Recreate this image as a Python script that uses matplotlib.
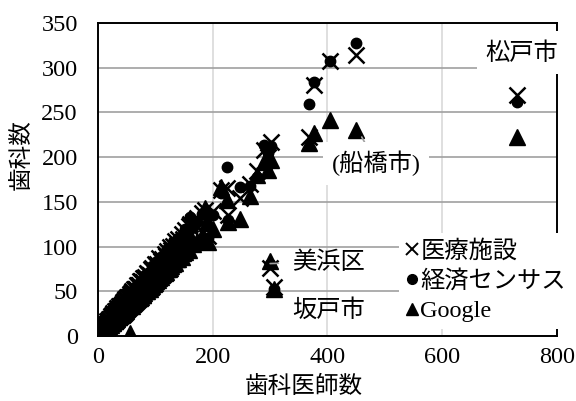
import matplotlib
matplotlib.use("Agg")
import matplotlib.pyplot as plt
from matplotlib.font_manager import FontProperties
from matplotlib.lines import Line2D

# dentists per municipality and dental clinic counts from three sources
DENTISTS = [3, 5, 6, 8, 9, 10, 12, 13, 14, 15, 17, 18, 20, 21, 23, 24, 26, 28, 29, 31,
            33, 35, 36, 38, 40, 42, 44, 46, 48, 50, 52, 55, 57, 60, 62, 65, 68, 70, 73, 76,
            79, 82, 85, 88, 92, 95, 99, 103, 107, 111, 116, 120, 125, 130, 135, 140, 146, 152, 158, 160,
            165, 172, 182, 186, 190, 191, 200, 215, 224, 226, 247, 265, 277, 290, 296, 300, 302, 306, 368, 376,
            405, 450, 731,
            4, 7, 11, 16, 19, 22, 25, 27, 30, 32, 34, 37, 39, 41, 43, 45, 47, 49, 51, 54,
            56, 59, 61, 64, 67, 69, 72, 75, 78, 81, 84, 87, 90, 94, 97, 101, 105, 109, 113, 118,
            123, 128, 133, 138, 143, 149, 155]
CLINICS_MEDICAL = [4, 6, 5, 8, 9, 10, 11, 12, 13, 13, 15, 16, 18, 17, 20, 21, 22, 24, 25, 26,
                   29, 28, 31, 32, 34, 35, 38, 37, 41, 40, 44, 45, 48, 49, 52, 53, 57, 56, 61, 60,
                   65, 66, 70, 69, 75, 76, 80, 81, 87, 86, 92, 95, 99, 101, 106, 108, 114, 118, 123, 125,
                   128, 132, 138, 141, 128, 112, 140, 163, 165, 135, 154, 170, 185, 208, 200, 76, 217, 55, 222, 281,
                   308, 314, 269,
                   7, 10, 13, 17, 19, 22, 24, 26, 28, 28, 31, 33, 34, 36, 35, 39, 41, 40, 44, 44,
                   47, 50, 49, 53, 53, 57, 57, 61, 60, 65, 65, 69, 68, 74, 73, 79, 78, 84, 83, 90,
                   89, 96, 95, 102, 101, 108, 110]
CLINICS_CENSUS = [3, 5, 6, 7, 8, 9, 11, 11, 12, 14, 14, 15, 17, 18, 19, 20, 23, 23, 24, 27,
                  27, 29, 30, 31, 33, 36, 36, 39, 39, 42, 42, 46, 46, 50, 50, 55, 55, 58, 58, 62,
                  63, 68, 67, 71, 73, 78, 78, 84, 84, 90, 90, 97, 96, 105, 104, 110, 112, 120, 118, 133,
                  122, 127, 136, 140, 125, 110, 135, 160, 189, 130, 167, 168, 178, 214, 205, 80, 213, 53, 259, 284,
                  308, 328, 262,
                  5, 7, 10, 13, 15, 17, 20, 21, 24, 25, 26, 29, 30, 31, 33, 35, 36, 37, 39, 41,
                  43, 45, 46, 48, 51, 52, 54, 56, 58, 60, 62, 65, 66, 69, 71, 74, 77, 79, 82, 86,
                  89, 92, 96, 99, 103, 107, 112]
CLINICS_GOOGLE = [2, 3, 4, 5, 6, 6, 8, 8, 9, 10, 10, 12, 12, 14, 14, 15, 16, 18, 17, 20,
                  19, 22, 21, 24, 24, 27, 26, 29, 28, 31, 31, 3, 35, 38, 37, 41, 40, 44, 43, 47,
                  46, 51, 50, 55, 55, 60, 59, 64, 65, 68, 70, 75, 76, 80, 82, 86, 88, 94, 96, 112,
                  103, 106, 112, 143, 126, 105, 120, 167, 152, 128, 131, 156, 180, 195, 186, 84, 197, 52, 216, 227,
                  242, 230, 222,
                  3, 4, 6, 9, 11, 12, 14, 15, 17, 18, 20, 21, 22, 23, 25, 26, 27, 29, 30, 32,
                  33, 34, 36, 38, 39, 41, 42, 44, 46, 48, 50, 52, 53, 56, 58, 61, 63, 66, 69, 72,
                  75, 78, 82, 86, 90, 93, 97]

SERIES_NAMES = ["医療施設", "経済センサス", "Google"]
X_TICKS = [0, 200, 400, 600, 800]
Y_TICKS = [0, 50, 100, 150, 200, 250, 300, 350]

plt.rcParams["font.family"] = ["Noto Sans CJK JP", "DejaVu Sans"]
SERIF = ["Liberation Serif", "Noto Sans CJK JP"]
FS = 17.5


def main():
    fig = plt.figure(figsize=(5.76, 4.01), dpi=100)
    ax = fig.add_axes([0.1701, 0.1621, 0.7969, 0.7805])

    ax.plot(DENTISTS, CLINICS_MEDICAL, linestyle="none", marker="x", ms=11,
            mew=1.8, color="black")
    ax.plot(DENTISTS, CLINICS_CENSUS, linestyle="none", marker="o", ms=7.5,
            color="black")
    ax.plot(DENTISTS, CLINICS_GOOGLE, linestyle="none", marker="^", ms=11,
            color="black")

    ax.set_xlim(0, 800)
    ax.set_ylim(0, 350)
    ax.set_xticks(X_TICKS)
    ax.set_yticks(Y_TICKS)
    ax.tick_params(length=0, labelsize=FS)
    ax.tick_params(axis="y", pad=14.5)
    ax.tick_params(axis="x", pad=8)
    for lab in ax.get_xticklabels() + ax.get_yticklabels():
        lab.set_family(SERIF)

    ax.set_axisbelow(True)
    ax.yaxis.grid(True, color="#a0a0a0", lw=1.2)
    ax.xaxis.grid(True, color="#d9d9d9", lw=1.2)
    for sp in ax.spines.values():
        sp.set_linewidth(1.4)
        sp.set_color("black")

    ax.set_xlabel("歯科医師数", fontsize=17)
    ax.set_ylabel("歯科数", fontsize=17)
    ax.xaxis.set_label_coords(0.449, -0.125)
    ax.yaxis.set_label_coords(-0.142, 0.581)

    box = dict(boxstyle="square,pad=0.35", fc="white", ec="none")
    ax.text(739, 317, "松戸市", fontsize=FS, ha="center", va="center",
            bbox=box, clip_on=False, zorder=6)
    ax.annotate("(船橋市)", xy=(455, 228), xytext=(485, 193), fontsize=FS,
                family=SERIF, ha="center", va="center", bbox=box, zorder=6,
                arrowprops=dict(arrowstyle="-", color="#a0a0a0", lw=1.2,
                                shrinkA=0, shrinkB=4))
    ax.annotate("美浜区", xy=(300, 81), xytext=(402, 83), fontsize=FS,
                ha="center", va="center", zorder=6,
                arrowprops=dict(arrowstyle="-", color="#a0a0a0", lw=1.2,
                                shrinkA=8, shrinkB=0))
    ax.text(402, 29, "坂戸市", fontsize=FS, ha="center", va="center", zorder=6)

    handles = [
        Line2D([], [], linestyle="none", marker="x", ms=8, mew=1.4, color="black"),
        Line2D([], [], linestyle="none", marker="o", ms=7, color="black"),
        Line2D([], [], linestyle="none", marker="^", ms=8, color="black"),
    ]
    leg = ax.legend(handles, SERIES_NAMES, loc="upper right",
                    bbox_to_anchor=(1.035, 0.33), frameon=True,
                    prop=FontProperties(family=SERIF, size=FS),
                    handlelength=0.5, handletextpad=0.08, labelspacing=0.3,
                    borderpad=0.3, borderaxespad=0.0, fancybox=False)
    leg.get_frame().set_facecolor("white")
    leg.get_frame().set_edgecolor("none")
    leg.get_frame().set_alpha(1.0)

    fig.savefig("out.png", dpi=100)
    plt.close(fig)


if __name__ == "__main__":
    main()
